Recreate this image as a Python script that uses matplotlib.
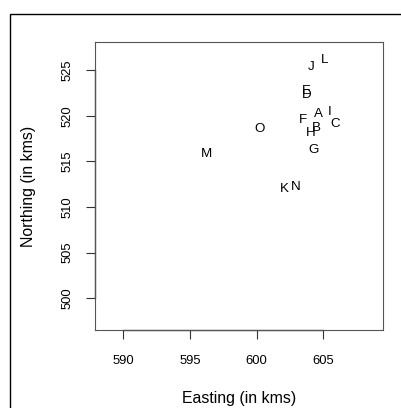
import matplotlib.pyplot as plt
from matplotlib.patches import Rectangle

plt.rcParams["font.family"] = ["Liberation Sans", "DejaVu Sans"]

# point labels with easting / northing (kms)
labels = ["A", "B", "C", "D", "E", "F", "G", "H", "I", "J", "K", "L", "M", "N", "O"]
easting = [604.6, 604.5, 605.9, 603.75, 603.75, 603.5, 604.3, 604.05, 605.45,
           604.1, 602.1, 605.1, 596.2, 602.9, 600.25]
northing = [520.2, 518.7, 519.1, 522.3, 522.7, 519.5, 516.2, 518.1, 520.4,
            525.35, 511.95, 526.15, 515.8, 512.2, 518.5]

xticks = [590, 595, 600, 605]
yticks = [500, 505, 510, 515, 520, 525]

fig = plt.figure(figsize=(4.01, 4.08), dpi=100)
ax = fig.add_axes([95 / 401, 1 - 330 / 408, 288 / 401, 288 / 408])

for lab, x, y in zip(labels, easting, northing):
    ax.text(x, y, lab, ha="center", va="center", fontsize=9.6)

ax.set_xlim(587.87, 609.48)
ax.set_ylim(496.53, 528.07)
ax.set_xticks(xticks)
ax.set_yticks(yticks)
ax.tick_params(axis="both", direction="out", length=6.3, width=0.8,
               labelsize=9.4, color="#333333")
ax.tick_params(axis="x", pad=12)
ax.tick_params(axis="y", pad=9.5)
for lbl in ax.get_yticklabels():
    lbl.set_rotation(90)
    lbl.set_va("center")

for sp in ax.spines.values():
    sp.set_color("#555555")
    sp.set_linewidth(0.8)

# R-style axis lines over tick range
ax.plot([xticks[0], xticks[-1]], [ax.get_ylim()[0]] * 2, color="black",
        lw=0.9, clip_on=False)
ax.plot([ax.get_xlim()[0]] * 2, [yticks[0], yticks[-1]], color="black",
        lw=0.9, clip_on=False)

ax.set_xlabel("Easting (in kms)", fontsize=11.4)
ax.set_ylabel("Northing (in kms)", fontsize=11.4)
ax.xaxis.set_label_coords(0.5, (330 - 398) / 288)
ax.yaxis.set_label_coords((28 - 95) / 288, 0.5)
ax.xaxis.label.set_va("center")
ax.yaxis.label.set_va("center")

# outer frame
fig.patches.append(Rectangle((9.5 / 401, -0.1), 1.2, 1 - 14 / 408 + 0.1,
                             transform=fig.transFigure, fill=False,
                             edgecolor="black", linewidth=1.0))

fig.savefig("out.png", dpi=100)
